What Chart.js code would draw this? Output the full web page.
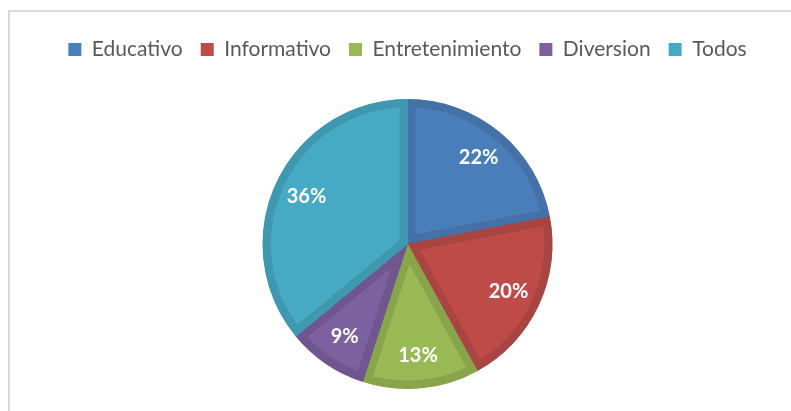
<!DOCTYPE html>
<html>
<head>
<meta charset="utf-8">
<script src="https://cdn.jsdelivr.net/npm/chart.js@4/dist/chart.umd.min.js"></script>
<style>
  html, body { margin: 0; padding: 0; background: #fff; overflow: hidden; }
  #frame {
    position: absolute; left: 8px; top: 10px; width: 820px; height: 440px;
    border-left: 2px solid #d9d9d9; border-top: 2px solid #d9d9d9;
  }
  #wrap { position: absolute; left: 0; top: 0; width: 791px; height: 411px; }
</style>
</head>
<body>
<div id="frame"></div>
<div id="wrap"><canvas id="pieChart" width="791" height="411"></canvas></div>
<script>
// datos del grafico
var categorias = ['Educativo', 'Informativo', 'Entretenimiento', 'Diversion', 'Todos'];
var porcentajes = [22, 20, 13, 9, 36];
var colores = ['#4a7ebb', '#be4b48', '#98b954', '#7d60a0', '#46aac5'];
var bordes = ['#4472a8', '#a84542', '#88a54c', '#6f568f', '#3f98b0'];

// etiquetas de porcentaje dentro de cada sector
var etiquetasPlugin = {
    id: 'etiquetas',
    afterDatasetsDraw: function(chart) {
        var ctx = chart.ctx;
        var meta = chart.getDatasetMeta(0);
        ctx.save();
        ctx.fillStyle = '#ffffff';
        ctx.font = 'bold 20px Lato';
        ctx.textAlign = 'center';
        ctx.textBaseline = 'middle';
        meta.data.forEach(function(arc, i) {
            var p = arc.getProps(['x', 'y', 'startAngle', 'endAngle', 'outerRadius'], true);
            var mid = (p.startAngle + p.endAngle) / 2;
            var r = p.outerRadius * 0.77;
            ctx.fillText(porcentajes[i] + '%', p.x + Math.cos(mid) * r, p.y + Math.sin(mid) * r);
        });
        ctx.restore();
    }
};

// espacio extra debajo de la leyenda
var espacioLeyenda = {
    id: 'espacioLeyenda',
    beforeInit: function(chart) {
        var fitOrig = chart.legend.fit;
        chart.legend.fit = function() {
            fitOrig.bind(chart.legend)();
            this.height += 29;
        };
    }
};

var ctx = document.getElementById('pieChart').getContext('2d');
var pieChart = new Chart(ctx, {
    type: 'pie',
    data: {
        labels: categorias,
        datasets: [{
            data: porcentajes,
            backgroundColor: colores,
            borderColor: bordes,
            borderWidth: 8,
            borderAlign: 'inner'
        }]
    },
    options: {
        responsive: false,
        animation: false,
        layout: {
            padding: { top: 21, bottom: 22, left: 24, right: 0 }
        },
        plugins: {
            legend: {
                position: 'top',
                labels: {
                    boxWidth: 13,
                    boxHeight: 13,
                    padding: 18,
                    color: '#595959',
                    font: { family: 'Lato', size: 21 },
                    generateLabels: function(chart) {
                        return categorias.map(function(c, i) {
                            return {
                                text: c,
                                fillStyle: colores[i],
                                strokeStyle: colores[i],
                                lineWidth: 0,
                                fontColor: '#595959',
                                index: i
                            };
                        });
                    }
                }
            },
            tooltip: { enabled: false }
        }
    },
    plugins: [etiquetasPlugin, espacioLeyenda]
});
</script>
</body>
</html>
